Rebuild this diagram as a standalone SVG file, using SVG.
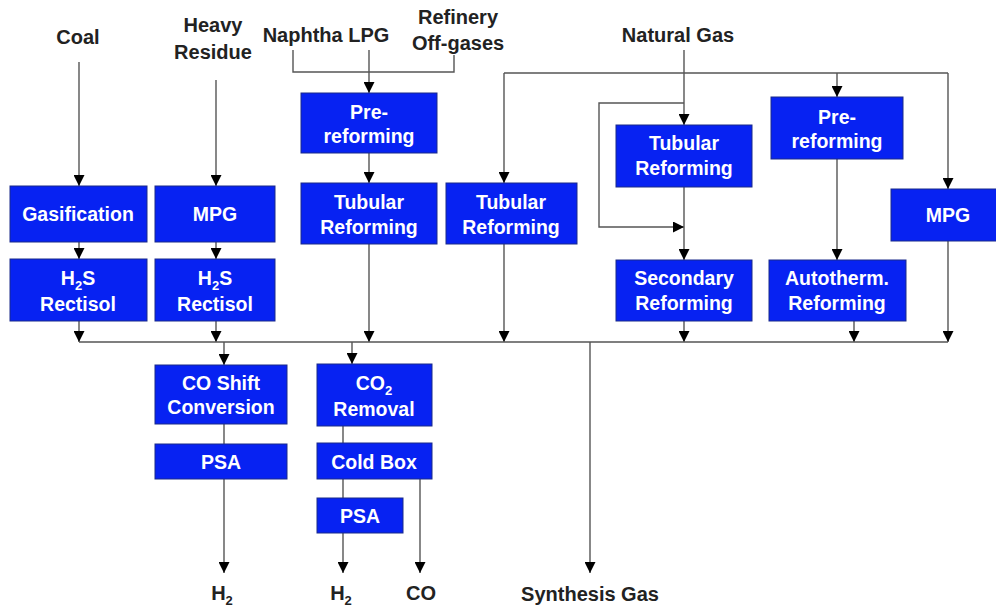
<svg xmlns="http://www.w3.org/2000/svg" width="996" height="610" viewBox="0 0 996 610">
<defs>
<style>
.box{fill:#0722f2;stroke:#1a2a8a;stroke-width:1}
.bt{fill:#fff;font-family:"Liberation Sans",Arial,sans-serif;font-weight:bold;font-size:19.5px;text-anchor:middle}
.lb{fill:#222;font-family:"Liberation Sans",Arial,sans-serif;font-weight:bold;font-size:20px;text-anchor:middle}
.ln{fill:none;stroke:#555;stroke-width:1.4}
.sub{font-size:13px}
</style>
<marker id="ah" viewBox="0 0 10 10" refX="10" refY="5" markerWidth="11" markerHeight="11" markerUnits="userSpaceOnUse" orient="auto">
<path d="M0,0 L10,5 L0,10 Z" fill="#000"/>
</marker>
</defs>
<rect width="996" height="610" fill="#fff"/>

<g id="labels">
<text class="lb" x="78" y="44">Coal</text>
<text class="lb" x="213" y="32">Heavy</text>
<text class="lb" x="213" y="59">Residue</text>
<text class="lb" x="326" y="42">Naphtha LPG</text>
<text class="lb" x="458" y="24">Refinery</text>
<text class="lb" x="458" y="50">Off-gases</text>
<text class="lb" x="678" y="42">Natural Gas</text>
<text class="lb" x="222" y="600">H<tspan class="sub" dy="5">2</tspan></text>
<text class="lb" x="341" y="600">H<tspan class="sub" dy="5">2</tspan></text>
<text class="lb" x="421" y="600">CO</text>
<text class="lb" x="590" y="601">Synthesis Gas</text>
</g>

<g id="connectors">
<path class="ln" d="M79,62 V186" marker-end="url(#ah)"/>
<path class="ln" d="M216,80 V186" marker-end="url(#ah)"/>
<path class="ln" d="M293,50 V72 H454 V55"/>
<path class="ln" d="M369,50 V93" marker-end="url(#ah)"/>
<path class="ln" d="M369,153 V183" marker-end="url(#ah)"/>
<path class="ln" d="M369,244 V342" marker-end="url(#ah)"/>
<path class="ln" d="M79,242 V259" marker-end="url(#ah)"/>
<path class="ln" d="M216,242 V259" marker-end="url(#ah)"/>
<path class="ln" d="M79,321 V342" marker-end="url(#ah)"/>
<path class="ln" d="M216,321 V342" marker-end="url(#ah)"/>
<path class="ln" d="M504,73 H948"/>
<path class="ln" d="M504,73 V183" marker-end="url(#ah)"/>
<path class="ln" d="M504,244 V342" marker-end="url(#ah)"/>
<path class="ln" d="M684,50 V125" marker-end="url(#ah)"/>
<path class="ln" d="M684,103 H599 V227 H684" marker-end="url(#ah)"/>
<path class="ln" d="M684,187 V260" marker-end="url(#ah)"/>
<path class="ln" d="M684,321 V342" marker-end="url(#ah)"/>
<path class="ln" d="M837,73 V97" marker-end="url(#ah)"/>
<path class="ln" d="M837,159 V260" marker-end="url(#ah)"/>
<path class="ln" d="M854,321 V342" marker-end="url(#ah)"/>
<path class="ln" d="M948,73 V189" marker-end="url(#ah)"/>
<path class="ln" d="M948,241 V342" marker-end="url(#ah)"/>
<path class="ln" d="M79,342 H948"/>
<path class="ln" d="M224,342 V365" marker-end="url(#ah)"/>
<path class="ln" d="M352,342 V364" marker-end="url(#ah)"/>
<path class="ln" d="M590,342 V573" marker-end="url(#ah)"/>
<path class="ln" d="M224,424 V444"/>
<path class="ln" d="M224,479 V573" marker-end="url(#ah)"/>
<path class="ln" d="M343,426 V443"/>
<path class="ln" d="M343,479 V498"/>
<path class="ln" d="M343,533 V573" marker-end="url(#ah)"/>
<path class="ln" d="M420,479 V573" marker-end="url(#ah)"/>
</g>

<g id="gasification"><rect class="box" x="10" y="186" width="137" height="56"/><text class="bt" x="78" y="221">Gasification</text></g>
<g id="mpg1"><rect class="box" x="155" y="186" width="120" height="56"/><text class="bt" x="215" y="221">MPG</text></g>
<g id="rectisol1"><rect class="box" x="10" y="259" width="137" height="62"/><text class="bt" x="78" y="285">H<tspan class="sub" dy="5">2</tspan><tspan dy="-5">S</tspan></text><text class="bt" x="78" y="311">Rectisol</text></g>
<g id="rectisol2"><rect class="box" x="155" y="259" width="120" height="62"/><text class="bt" x="215" y="285">H<tspan class="sub" dy="5">2</tspan><tspan dy="-5">S</tspan></text><text class="bt" x="215" y="311">Rectisol</text></g>
<g id="prereforming1"><rect class="box" x="301" y="93" width="136" height="60"/><text class="bt" x="369" y="119">Pre-</text><text class="bt" x="369" y="143">reforming</text></g>
<g id="tubular1"><rect class="box" x="301" y="183" width="136" height="61"/><text class="bt" x="369" y="209">Tubular</text><text class="bt" x="369" y="234">Reforming</text></g>
<g id="tubular2"><rect class="box" x="446" y="183" width="131" height="61"/><text class="bt" x="511" y="209">Tubular</text><text class="bt" x="511" y="234">Reforming</text></g>
<g id="tubular3"><rect class="box" x="616" y="125" width="136" height="62"/><text class="bt" x="684" y="150">Tubular</text><text class="bt" x="684" y="175">Reforming</text></g>
<g id="secondary"><rect class="box" x="616" y="260" width="136" height="61"/><text class="bt" x="684" y="285">Secondary</text><text class="bt" x="684" y="310">Reforming</text></g>
<g id="prereforming2"><rect class="box" x="771" y="97" width="132" height="62"/><text class="bt" x="837" y="124">Pre-</text><text class="bt" x="837" y="148">reforming</text></g>
<g id="autotherm"><rect class="box" x="769" y="260" width="137" height="61"/><text class="bt" x="837" y="285">Autotherm.</text><text class="bt" x="837" y="310">Reforming</text></g>
<g id="mpg2"><rect class="box" x="891" y="189" width="115" height="52"/><text class="bt" x="948" y="222">MPG</text></g>
<g id="coshift"><rect class="box" x="155" y="365" width="132" height="59"/><text class="bt" x="221" y="390">CO Shift</text><text class="bt" x="221" y="414">Conversion</text></g>
<g id="psa1"><rect class="box" x="155" y="444" width="132" height="35"/><text class="bt" x="221" y="469">PSA</text></g>
<g id="co2removal"><rect class="box" x="317" y="364" width="115" height="62"/><text class="bt" x="374" y="390">CO<tspan class="sub" dy="5">2</tspan></text><text class="bt" x="374" y="416">Removal</text></g>
<g id="coldbox"><rect class="box" x="317" y="443" width="115" height="36"/><text class="bt" x="374" y="469">Cold Box</text></g>
<g id="psa2"><rect class="box" x="317" y="498" width="86" height="35"/><text class="bt" x="360" y="523">PSA</text></g>
</svg>
